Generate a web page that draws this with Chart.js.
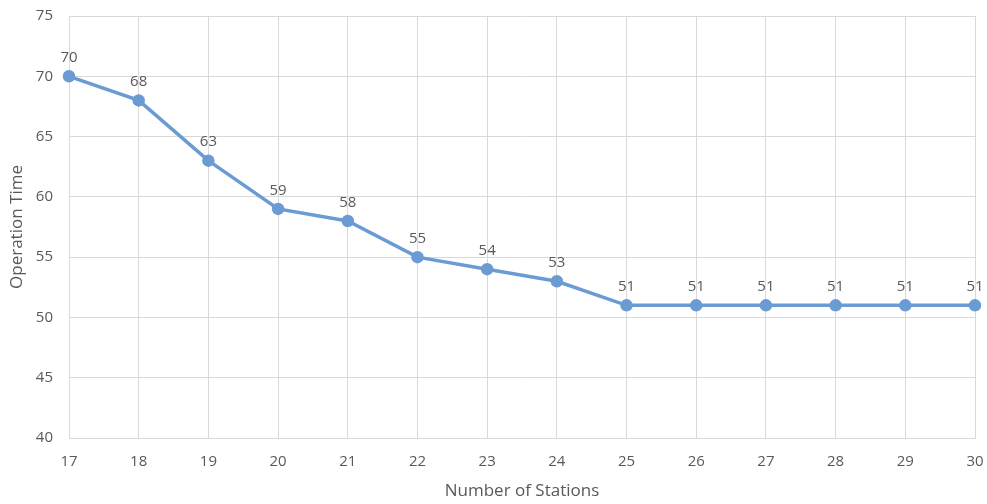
<!DOCTYPE html>
<html>
<head>
<meta charset="utf-8">
<script src="https://cdn.jsdelivr.net/npm/chart.js@4/dist/chart.umd.min.js"></script>
<style>
    html, body { margin: 0; padding: 0; background: #fff; }
    #wrap { width: 987px; height: 504px; position: relative; }
</style>
</head>
<body>
<div id="wrap"><canvas id="chart"></canvas></div>
<script>
const stations = ['17', '18', '19', '20', '21', '22', '23', '24', '25', '26', '27', '28', '29', '30'];
const operationTime = [70, 68, 63, 59, 58, 55, 54, 53, 51, 51, 51, 51, 51, 51];
const yMin = 40;
const yMax = 75;
const yStep = 5;

const textColor = '#595959';
const gridColor = '#d9d9d9';
const lineColor = '#6b9bd3';
const fontFamily = "'Open Sans', 'DejaVu Sans', sans-serif";

// draws the value above each point, like Excel data labels
const valueLabels = {
    id: 'valueLabels',
    afterDatasetsDraw(chart) {
        const ctx = chart.ctx;
        const meta = chart.getDatasetMeta(0);
        ctx.save();
        ctx.fillStyle = textColor;
        ctx.font = `15px ${fontFamily}`;
        ctx.textAlign = 'center';
        ctx.textBaseline = 'bottom';
        meta.data.forEach((pt, i) => {
            ctx.fillText(String(operationTime[i]), pt.x, pt.y - 11);
        });
        ctx.restore();
    }
};

new Chart(document.getElementById('chart').getContext('2d'), {
    type: 'line',
    data: {
        labels: stations,
        datasets: [{
            data: operationTime,
            borderColor: lineColor,
            backgroundColor: lineColor,
            borderWidth: 3.5,
            pointRadius: 4.5,
            pointHoverRadius: 4.5,
            tension: 0
        }]
    },
    options: {
        responsive: true,
        maintainAspectRatio: false,
        animation: false,
        layout: { padding: { top: 16, right: 12, left: 0, bottom: 0 } },
        plugins: {
            legend: { display: false },
            tooltip: { enabled: false }
        },
        scales: {
            x: {
                offset: false,
                grid: { color: gridColor, lineWidth: 1, drawTicks: false },
                border: { color: gridColor, width: 1 },
                ticks: { color: textColor, font: { family: fontFamily, size: 15 }, padding: 15, maxRotation: 0, autoSkip: false },
                title: { display: true, text: 'Number of Stations', color: textColor, font: { family: fontFamily, size: 17 }, padding: { top: 8, bottom: 3 } },
                afterFit(scale) {
                    scale.height = 66;
                    scale.paddingLeft = 0;
                    scale.paddingRight = 0;
                }
            },
            y: {
                min: yMin,
                max: yMax,
                grid: { color: gridColor, lineWidth: 1, drawTicks: false },
                border: { color: gridColor, width: 1 },
                ticks: { stepSize: yStep, color: textColor, font: { family: fontFamily, size: 15 }, padding: 16 },
                title: { display: true, text: 'Operation Time', color: textColor, font: { family: fontFamily, size: 17 }, padding: { top: 7, bottom: 4 } },
                afterFit(scale) {
                    scale.width = 69;
                    scale.paddingTop = 0;
                    scale.paddingBottom = 0;
                }
            }
        }
    },
    plugins: [valueLabels]
});
</script>
</body>
</html>
